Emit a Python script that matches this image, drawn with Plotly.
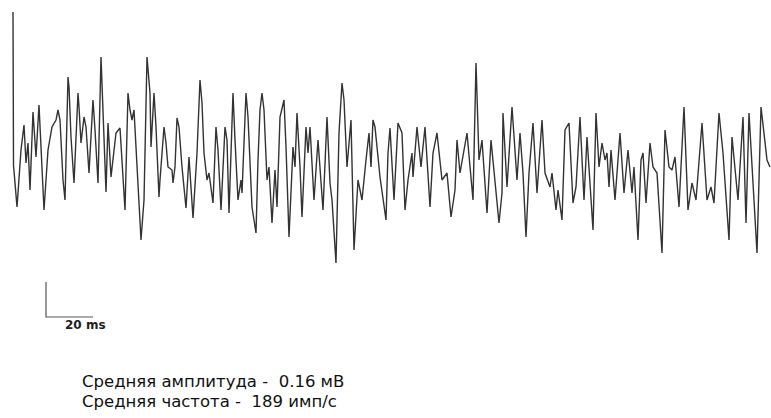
import plotly.graph_objects as go

# Time in samples (2.35 samples per ms: 47 samples = 20 ms), amplitude in raw units
t_samples = [0, 0.5, 4, 8, 11, 13, 15, 17, 20, 23, 26, 27, 30, 31, 35, 39, 43, 45, 47, 50, 52, 55, 56, 58, 61,
             65, 66, 68, 71, 73, 76, 80, 82, 85, 88, 89, 93, 95, 98, 103, 107, 112, 115, 117, 119, 121, 125, 128,
             131, 134, 137, 138, 141, 143, 146, 147, 151, 153, 155, 159, 160, 162, 164, 166, 169, 173, 176, 180,
             184, 187, 189, 191, 194, 196, 200, 203, 205, 208, 212, 214, 216, 220, 222, 225, 228, 229, 233, 235,
             239, 243, 245, 247, 249, 251, 254, 256, 259, 262, 264, 267, 271, 273, 276, 280, 282, 284, 287, 289,
             293, 295, 297, 301, 305, 310, 314, 317, 319, 323, 326, 329, 331, 334, 338, 341, 345, 349, 353, 356,
             358, 360, 362, 367, 373, 375, 377, 381, 385, 389, 392, 395, 399, 400, 404, 408, 412, 417, 420, 424,
             429, 434, 438, 442, 444, 447, 454, 460, 463, 466, 469, 474, 478, 486, 489, 490, 494, 499, 504, 507,
             510, 513, 516, 520, 524, 529, 532, 537, 539, 543, 545, 549, 552, 556, 560, 563, 567, 571, 574, 578,
             580, 583, 586, 589, 592, 594, 596, 598, 602, 607, 611, 615, 619, 621, 625, 628, 630, 633, 637, 640,
             644, 649, 652, 656, 659, 662, 666, 671, 675, 679, 683, 689, 694, 698, 701, 706, 710, 716, 719, 725,
             730, 733, 736, 740, 744, 748, 754, 757]
amplitude = [153, 0, -42, 15, 40, 2, 22, -25, 53, 8, 60, 38, -35, -45, 15, 38, 45, 55, 45, -15, -35, 88, 78, 28, -18,
             72, 58, 22, 48, 38, -8, 65, 35, -18, 108, 82, -27, 42, -12, 32, 37, -45, 72, 55, 45, 55, -18, -75,
             -35, 108, 72, 18, 72, 38, -32, -15, 38, 22, -2, -5, -18, -2, 47, 38, -2, -43, 8, -53,
             12, 85, 62, 12, -15, -8, -38, 38, 15, -45, 38, 25, -48, 72, 25, -35, -15, -28, 72, 48,
             -42, -68, 5, 55, 72, 55, -15, -2, -58, -5, -42, 48, 65, 18, -72, 18, -2, 52, -2, -52,
             38, 12, 38, -35, 25, -45, 48, -18, -35, -98, 32, 82, 65, -2, 45, -85, -15, -35, 5, 32,
             -2, 45, 38, -12, -55, 12, 37, -35, 42, 32, -45, -15, 12, -12, 38, -2, 38, -42, 12, 32,
             -15, -8, -52, -25, 25, -8, 32, -35, 102, 5, 25, -48, 25, -58, -28, 52, -22, 58, -15, 32,
             -8, -72, -8, 42, -28, 45, -8, -22, -8, -45, -25, -55, 35, 42, -38, -22, 48, -35, 28, -42,
             -65, 52, -2, 22, 5, 12, -22, 15, -35, 32, -28, 15, -28, -2, -75, 5, 12, -38, 22, -2,
             -8, -88, 35, -2, -5, 8, -42, 58, -45, -18, -35, 42, -35, -22, -38, 52, 12, -75, 28, -35,
             48, -58, 52, -18, -88, 58, 5, -2]

samples_per_20ms = 47
bar_t0 = 33
bar_amp_top = -117
bar_amp_bottom = -152

text_line1 = "Средняя амплитуда -  0.16 мВ"
text_line2 = "Средняя частота -  189 имп/с"
scale_label = "20 ms"

fig = go.Figure()
fig.add_trace(go.Scatter(x=t_samples, y=amplitude, mode="lines",
                         line=dict(color="#333333", width=1.4), hoverinfo="skip"))

# scale bar
fig.add_trace(go.Scatter(x=[bar_t0, bar_t0, bar_t0 + samples_per_20ms],
                         y=[bar_amp_top, bar_amp_bottom, bar_amp_bottom], mode="lines",
                         line=dict(color="#555555", width=1.2), hoverinfo="skip"))

fig.add_annotation(x=bar_t0 + 39, y=bar_amp_bottom - 8, xref="x", yref="y",
                   text="<b>" + scale_label + "</b>", showarrow=False,
                   font=dict(family="DejaVu Sans", size=12, color="#222"), xanchor="center", yanchor="middle")

fig.add_annotation(x=82 / 771, y=1 - 381 / 418, xref="paper", yref="paper", text=text_line1, showarrow=False,
                   xanchor="left", yanchor="middle", xshift=-2,
                   font=dict(family="DejaVu Sans", size=16.5, color="#111"))
fig.add_annotation(x=82 / 771, y=1 - 401 / 418, xref="paper", yref="paper", text=text_line2, showarrow=False,
                   xanchor="left", yanchor="middle", xshift=-2,
                   font=dict(family="DejaVu Sans", size=16.5, color="#111"))

fig.update_layout(width=771, height=418, margin=dict(l=0, r=0, t=0, b=0),
                  paper_bgcolor="white", plot_bgcolor="white", showlegend=False,
                  xaxis=dict(range=[-13, 758], visible=False, fixedrange=True),
                  yaxis=dict(range=[-253, 165], visible=False, fixedrange=True))

fig.write_html("out.html", config={"displayModeBar": False},
               post_script="document.body.style.margin='0';document.body.style.overflow='hidden';")
